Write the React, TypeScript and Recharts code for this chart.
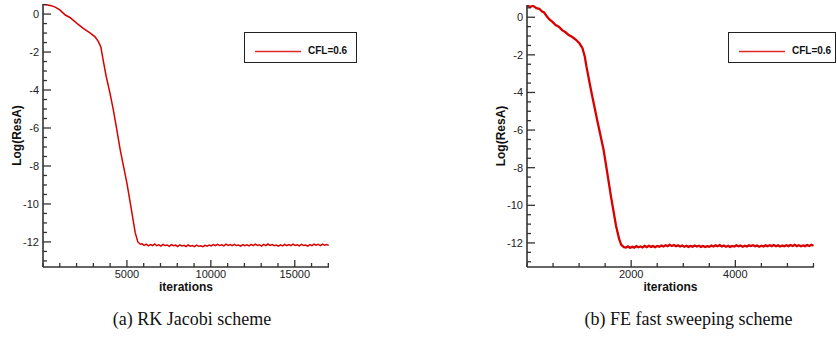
import React from 'react'
import { LineChart, Line, XAxis, YAxis, Legend, Label } from 'recharts'

// (a) RK Jacobi scheme: descent phase
const RK_DESCENT_ITER = [0, 200, 435, 700, 1000, 1330, 1600, 2040, 2400, 2820, 3100, 3300, 3450, 3510, 3600, 3770, 4000, 4190, 4400, 4600, 5000, 5250, 5490, 5650, 5800]
const RK_DESCENT_RES = [0.5, 0.49, 0.45, 0.38, 0.22, -0.05, -0.18, -0.5, -0.75, -1.0, -1.2, -1.45, -1.75, -2.05, -2.5, -3.3, -4.2, -5.05, -6.1, -7.15, -8.9, -10.2, -11.5, -12.0, -12.12]
// plateau, sampled every 125 iterations from 5900
const RK_FLAT_START = 5900
const RK_FLAT_STEP = 125
const RK_FLAT_RES = [
  -12.10, -12.18, -12.12, -12.21, -12.14, -12.19, -12.11, -12.20, -12.15, -12.22,
  -12.13, -12.19, -12.16, -12.23, -12.14, -12.20, -12.17, -12.24, -12.15, -12.21,
  -12.18, -12.24, -12.16, -12.22, -12.19, -12.25, -12.17, -12.23, -12.20, -12.25,
  -12.18, -12.22, -12.16, -12.21, -12.14, -12.20, -12.13, -12.19, -12.15, -12.21,
  -12.12, -12.18, -12.14, -12.20, -12.13, -12.19, -12.16, -12.22, -12.14, -12.20,
  -12.15, -12.21, -12.13, -12.19, -12.12, -12.18, -12.15, -12.22, -12.13, -12.19,
  -12.11, -12.18, -12.14, -12.20, -12.16, -12.22, -12.15, -12.21, -12.13, -12.19,
  -12.14, -12.20, -12.12, -12.18, -12.15, -12.21, -12.13, -12.19, -12.16, -12.22,
  -12.14, -12.20, -12.12, -12.17, -12.13, -12.19, -12.11, -12.17, -12.14, -12.18,
]

// (b) FE fast sweeping scheme
const FS_DESCENT_ITER = [0, 60, 120, 180, 237, 290, 330, 380, 430, 490, 550, 610, 680, 740, 800, 870, 940, 1010, 1065, 1110, 1140, 1230, 1350, 1470, 1520, 1610, 1710, 1770, 1810, 1860]
const FS_DESCENT_RES = [0.62, 0.55, 0.6, 0.48, 0.45, 0.3, 0.25, 0.05, -0.12, -0.25, -0.42, -0.5, -0.7, -0.8, -0.95, -1.05, -1.2, -1.4, -1.65, -2.1, -2.6, -3.9, -5.5, -7.05, -7.9, -9.5, -11.1, -11.8, -12.1, -12.22]
const FS_FLAT_START = 1900
const FS_FLAT_STEP = 40
const FS_FLAT_RES = [
  -12.24, -12.18, -12.26, -12.20, -12.25, -12.17, -12.23, -12.19, -12.24, -12.16,
  -12.22, -12.15, -12.21, -12.17, -12.23, -12.16, -12.20, -12.14, -12.19, -12.12,
  -12.17, -12.10, -12.16, -12.11, -12.18, -12.13, -12.19, -12.14, -12.20, -12.15,
  -12.21, -12.16, -12.20, -12.14, -12.19, -12.15, -12.21, -12.16, -12.22, -12.17,
  -12.20, -12.14, -12.19, -12.13, -12.18, -12.12, -12.19, -12.14, -12.20, -12.15,
  -12.21, -12.16, -12.19, -12.13, -12.18, -12.14, -12.20, -12.15, -12.19, -12.13,
  -12.17, -12.12, -12.18, -12.14, -12.20, -12.15, -12.19, -12.13, -12.18, -12.12,
  -12.17, -12.11, -12.18, -12.13, -12.19, -12.14, -12.18, -12.12, -12.17, -12.11,
  -12.16, -12.10, -12.17, -12.12, -12.18, -12.13, -12.17, -12.11, -12.16, -12.10,
  -12.15,
]

const RK_X_TICKS = [0, 1000, 2000, 3000, 4000, 5000, 6000, 7000, 8000, 9000, 10000, 11000, 12000, 13000, 14000, 15000, 16000, 17000]
const RK_X_LABELS = [5000, 10000, 15000]
const FS_X_TICKS = [0, 500, 1000, 1500, 2000, 2500, 3000, 3500, 4000, 4500, 5000, 5500]
const FS_X_LABELS = [2000, 4000]
const Y_TICKS = [0.5, 0, -0.5, -1, -1.5, -2, -2.5, -3, -3.5, -4, -4.5, -5, -5.5, -6, -6.5, -7, -7.5, -8, -8.5, -9, -9.5, -10, -10.5, -11, -11.5, -12, -12.5, -13]
const Y_LABELS = [0, -2, -4, -6, -8, -10, -12]

const SERIES_NAME = 'CFL=0.6'
const RED = '#d80000'
const AXIS = '#333'
const SANS = "'Liberation Sans', Arial, Helvetica, sans-serif"

function buildSeries(iters: number[], res: number[], start: number, step: number, flat: number[]) {
  const pts = iters.map((it, i) => ({ it, r: res[i] }))
  flat.forEach((r, i) => pts.push({ it: start + i * step, r }))
  return pts
}

const makeXTick = (labels: number[]) => (props: any) => {
  const { x, y, payload } = props
  const major = labels.includes(payload.value)
  return (
    <g>
      <line x1={x} x2={x} y1={y} y2={y - (major ? 7 : 4)} stroke={AXIS} strokeWidth={1.3} />
      {major && (
        <text x={x} y={y + 11} textAnchor="middle" fontSize={11} fontFamily={SANS} fill="#222">
          {payload.value}
        </text>
      )}
    </g>
  )
}

const YTick = (props: any) => {
  const { x, y, payload } = props
  const major = Y_LABELS.includes(payload.value)
  return (
    <g>
      <line x1={x} x2={x + (major ? 8 : 4)} y1={y} y2={y} stroke={AXIS} strokeWidth={1.3} />
      {major && (
        <text x={x - 4} y={y + 4} textAnchor="end" fontSize={11} fontFamily={SANS} fill="#222">
          {payload.value}
        </text>
      )}
    </g>
  )
}

const XTitle = (props: any) => {
  const vb = props.viewBox
  return (
    <text x={vb.x + vb.width / 2} y={vb.y + 24} textAnchor="middle" fontSize={12} fontWeight="bold" fontFamily={SANS} fill="#111">
      iterations
    </text>
  )
}

const YTitle = (props: any) => {
  const vb = props.viewBox
  const cx = vb.x + 17
  const cy = vb.y + vb.height / 2
  return (
    <text x={cx} y={cy} transform={`rotate(-90 ${cx} ${cy})`} textAnchor="middle" dominantBaseline="central" fontSize={12} fontWeight="bold" fontFamily={SANS} fill="#111">
      Log(ResA)
    </text>
  )
}

const LegendBox = ({ width }: { width: number }) => (
  <div style={{ width, height: 31, border: '1px solid #222', boxSizing: 'border-box', background: '#fff', position: 'relative' }}>
    <svg width={60} height={31} style={{ position: 'absolute', left: 0, top: 0 }}>
      <line x1={10} x2={56} y1={18.5} y2={18.5} stroke="#e02a2a" strokeWidth={1.6} />
    </svg>
    <span style={{ position: 'absolute', left: 63, top: 12, fontFamily: SANS, fontSize: 10, fontWeight: 'bold', color: '#111', lineHeight: '12px' }}>
      {SERIES_NAME}
    </span>
  </div>
)

type PanelProps = {
  left: number
  top: number
  width: number
  margin: { top: number; right: number; left: number; bottom: number }
  data: { it: number; r: number }[]
  xMax: number
  xTicks: number[]
  xLabels: number[]
  yDomain: [number, number]
  legendWidth: number
  strokeWidth: number
}

function Panel(p: PanelProps) {
  return (
    <div style={{ position: 'absolute', left: p.left, top: p.top }}>
      <LineChart width={p.width} height={300} data={p.data} margin={p.margin}>
        <XAxis
          type="number"
          dataKey="it"
          domain={[0, p.xMax]}
          allowDataOverflow
          ticks={p.xTicks}
          interval={0}
          height={33}
          tickSize={0}
          tickMargin={0}
          tickLine={false}
          tick={makeXTick(p.xLabels)}
          axisLine={{ stroke: AXIS, strokeWidth: 1.6 }}
        >
          <Label content={<XTitle />} />
        </XAxis>
        <YAxis
          type="number"
          domain={p.yDomain}
          allowDataOverflow
          ticks={Y_TICKS}
          interval={0}
          width={43}
          tickSize={0}
          tickMargin={0}
          tickLine={false}
          tick={<YTick />}
          axisLine={{ stroke: AXIS, strokeWidth: 1.6 }}
        >
          <Label content={<YTitle />} />
        </YAxis>
        <Legend
          layout="horizontal"
          verticalAlign="middle"
          align="center"
          wrapperStyle={{ left: 244, top: 32, width: p.legendWidth, height: 31 }}
          content={() => <LegendBox width={p.legendWidth} />}
        />
        <Line
          type="linear"
          dataKey="r"
          name={SERIES_NAME}
          stroke={RED}
          strokeWidth={p.strokeWidth}
          dot={false}
          isAnimationActive={false}
        />
      </LineChart>
    </div>
  )
}

export default function App() {
  const rk = buildSeries(RK_DESCENT_ITER, RK_DESCENT_RES, RK_FLAT_START, RK_FLAT_STEP, RK_FLAT_RES)
  const fs = buildSeries(FS_DESCENT_ITER, FS_DESCENT_RES, FS_FLAT_START, FS_FLAT_STEP, FS_FLAT_RES)
  const caption = { position: 'absolute' as const, top: 309, fontFamily: "'Liberation Serif', 'DejaVu Serif', serif", fontSize: 18, color: '#111', whiteSpace: 'nowrap' as const }
  return (
    <div style={{ position: 'absolute', left: 0, top: 0, width: 837, height: 352, background: '#fff', overflow: 'hidden' }}>
      <Panel
        left={0}
        top={0}
        width={340}
        margin={{ top: 4, right: 11, left: 0, bottom: 0 }}
        data={rk}
        xMax={17040}
        xTicks={RK_X_TICKS}
        xLabels={RK_X_LABELS}
        yDomain={[-13.32, 0.53]}
        legendWidth={113}
        strokeWidth={1.5}
      />
      <Panel
        left={484}
        top={0}
        width={353}
        margin={{ top: 5, right: 23, left: 0, bottom: 0 }}
        data={fs}
        xMax={5510}
        xTicks={FS_X_TICKS}
        xLabels={FS_X_LABELS}
        yDomain={[-13.28, 0.65]}
        legendWidth={108}
        strokeWidth={2.3}
      />
      <div style={{ ...caption, left: 107, width: 170, textAlign: 'center' }}>(a) RK Jacobi scheme</div>
      <div style={{ ...caption, left: 557, width: 263, textAlign: 'center' }}>(b) FE fast sweeping scheme</div>
    </div>
  )
}
